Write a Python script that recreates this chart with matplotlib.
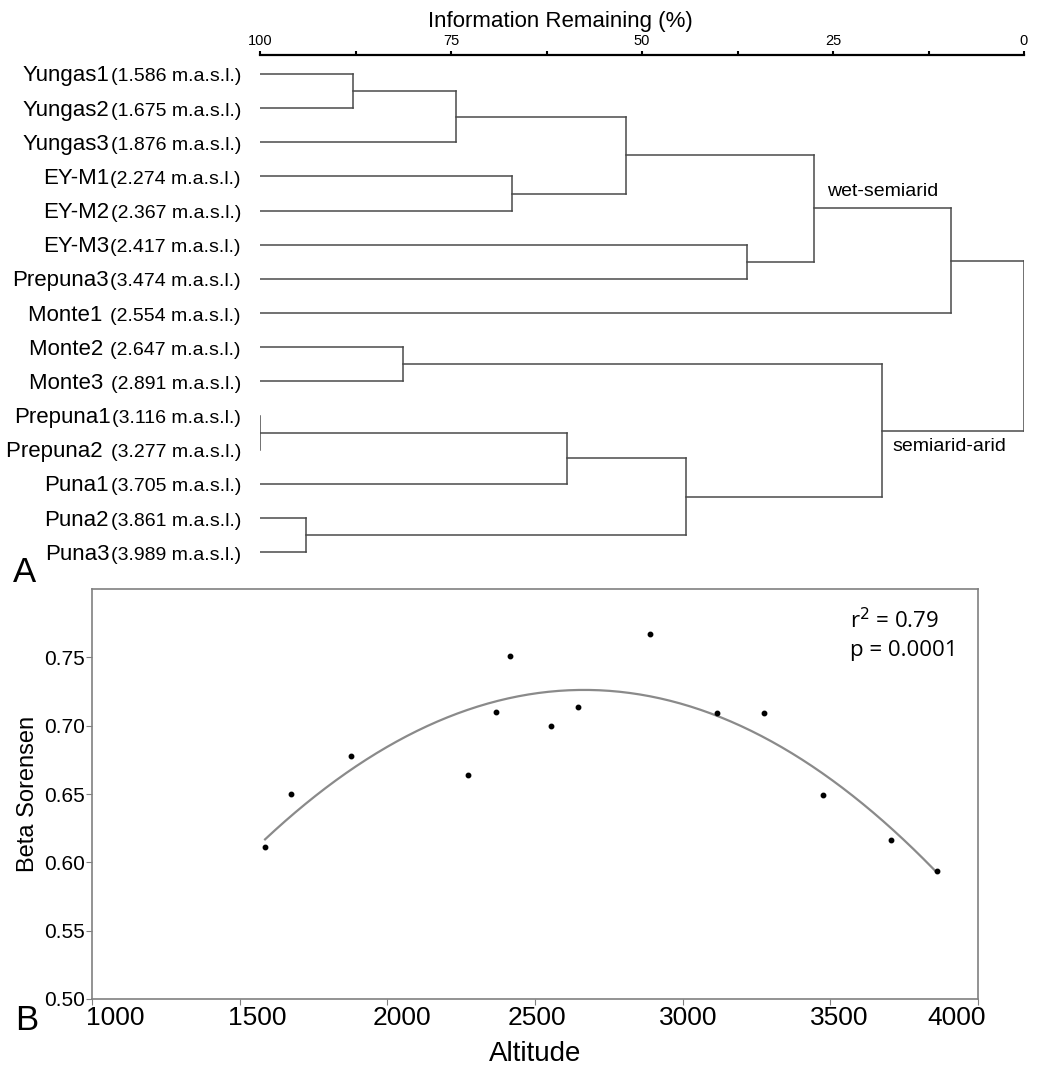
import numpy as np
import matplotlib
matplotlib.use("Agg")
import matplotlib.pyplot as plt
from matplotlib.transforms import ScaledTranslation

plt.rcParams['font.family'] = ['Liberation Sans', 'DejaVu Sans']

# --- data -------------------------------------------------------------
SITES = ["Yungas1", "Yungas2", "Yungas3", "EY-M1", "EY-M2", "EY-M3", "Prepuna3",
         "Monte1 ", "Monte2 ", "Monte3 ", "Prepuna1", "Prepuna2 ", "Puna1", "Puna2", "Puna3"]
ALT_LABELS = ["(1.586 m.a.s.l.)", "(1.675 m.a.s.l.)", "(1.876 m.a.s.l.)",
              "(2.274 m.a.s.l.)", "(2.367 m.a.s.l.)", "(2.417 m.a.s.l.)",
              "(3.474 m.a.s.l.)", "(2.554 m.a.s.l.)", "(2.647 m.a.s.l.)",
              "(2.891 m.a.s.l.)", "(3.116 m.a.s.l.)", "(3.277 m.a.s.l.)",
              "(3.705 m.a.s.l.)", "(3.861 m.a.s.l.)", "(3.989 m.a.s.l.)"]

# merges: (child a, child b, information remaining %); new cluster ids start at 15
MERGE_A = [0, 15, 3, 16, 5, 18, 20, 8, 10, 23, 13, 24, 22, 21]
MERGE_B = [1, 2, 4, 17, 6, 19, 7, 9, 11, 12, 14, 25, 26, 27]
MERGE_H = [87.8, 74.3, 67.0, 52.1, 36.3, 27.5, 9.6, 81.3, 100.0, 59.8, 94.0, 44.2, 18.6, 0.0]

ALTITUDE = [1586, 1675, 1876, 2274, 2367, 2417, 2554, 2647, 2891, 3116, 3277, 3474, 3705, 3861]
BETA = [0.611, 0.650, 0.678, 0.664, 0.710, 0.751, 0.700, 0.714, 0.767, 0.709, 0.709, 0.649, 0.616, 0.594]

XTICKS = [1000, 1500, 2000, 2500, 3000, 3500, 4000]
YTICKS = [0.50, 0.55, 0.60, 0.65, 0.70, 0.75]

W, H = 1047, 1065
fig = plt.figure(figsize=(W / 100, H / 100), dpi=100)

# --- A: dendrogram ----------------------------------------------------
ax = fig.add_axes([260 / W, 1 - 570 / H, 764 / W, 515 / H])
n = len(SITES)
ypos = {i: float(i) for i in range(n)}
xpos = {i: 100.0 for i in range(n)}
lc = '#4a4a4a'
for k, (a, b, h) in enumerate(zip(MERGE_A, MERGE_B, MERGE_H)):
    ax.plot([h, h], [ypos[a], ypos[b]], color=lc, lw=1.1)
    for c in (a, b):
        ax.plot([xpos[c], h], [ypos[c], ypos[c]], color=lc, lw=1.1)
    ypos[n + k] = (ypos[a] + ypos[b]) / 2
    xpos[n + k] = h

ax.set_xlim(100, 0)
ax.set_ylim(14.52, -0.556)
for s in ['left', 'right', 'bottom']:
    ax.spines[s].set_visible(False)
ax.spines['top'].set_linewidth(1.6)
ax.xaxis.tick_top()
ax.set_xticks([100, 75, 50, 25, 0])
ax.set_xticks([87.5, 62.5, 37.5, 12.5], minor=True)
ax.tick_params(axis='x', which='both', direction='out', length=3, width=1.5,
               labelsize=10.5, pad=2)
ax.set_yticks([])

for i in range(n):
    t = ax.annotate(ALT_LABELS[i], xy=(100, i), xytext=(-19, -7.5),
                    textcoords='offset pixels', ha='right', va='baseline', fontsize=14)
    ax.annotate(SITES[i], xy=(0, i), xycoords=(t, 'data'), xytext=(-1.5, -7.5),
                textcoords='offset pixels', ha='right', va='baseline', fontsize=16)

ax.text(25.8, 3.43, "wet-semiarid", fontsize=14, ha='left', va='center')
ax.text(17.2, 10.9, "semiarid-arid", fontsize=14, ha='left', va='center')
fig.text(560 / W, 1 - 22 / H, "Information Remaining (%)", fontsize=16,
         ha='center', va='center')
fig.text(13 / W, 1 - 573 / H, "A", fontsize=25, ha='left', va='center')

# --- B: beta vs altitude ----------------------------------------------
bx = fig.add_axes([92 / W, 1 - 999 / H, 886 / W, 410 / H])
coef = np.polyfit(ALTITUDE, BETA, 2)
xs = np.linspace(min(ALTITUDE), max(ALTITUDE), 200)
bx.plot(xs, np.polyval(coef, xs), color='#8a8a8a', lw=1.6)
bx.plot(ALTITUDE, BETA, 'o', color='black', ms=3.2)
bx.set_xlim(1000, 4000)
bx.set_ylim(0.5, 0.8)
bx.set_xticks(XTICKS)
bx.set_yticks(YTICKS)
bx.set_yticklabels([f"{v:.2f}" for v in YTICKS])
for s in bx.spines.values():
    s.set_color('#808080')
    s.set_linewidth(1.2)
bx.tick_params(axis='x', direction='out', length=4, color='#808080', labelsize=19, pad=1)
bx.tick_params(axis='y', direction='out', length=4, color='#808080', labelsize=15, pad=1)

# the original's x tick labels sit slightly off their ticks
label_shift = [23, 18, 15, 2, 6, 9, -21]
for lbl, dx in zip(bx.get_xticklabels(), label_shift):
    lbl.set_transform(lbl.get_transform() + ScaledTranslation(dx / 100, 0, fig.dpi_scale_trans))

bx.set_xlabel("Altitude", fontsize=20, labelpad=8)
bx.set_ylabel("Beta Sorensen", fontsize=17, labelpad=4)
bx.text(0.855, 0.922, "r$^2$ = 0.79", transform=bx.transAxes, fontsize=16,
        family=['Open Sans', 'DejaVu Sans'], ha='left', va='center')
bx.text(0.855, 0.849, "p = 0.0001", transform=bx.transAxes, fontsize=16,
        family=['Open Sans', 'DejaVu Sans'], ha='left', va='center')
fig.text(15 / W, 1 - 1021 / H, "B", fontsize=25, ha='left', va='center')

fig.savefig("out.png", dpi=100)
